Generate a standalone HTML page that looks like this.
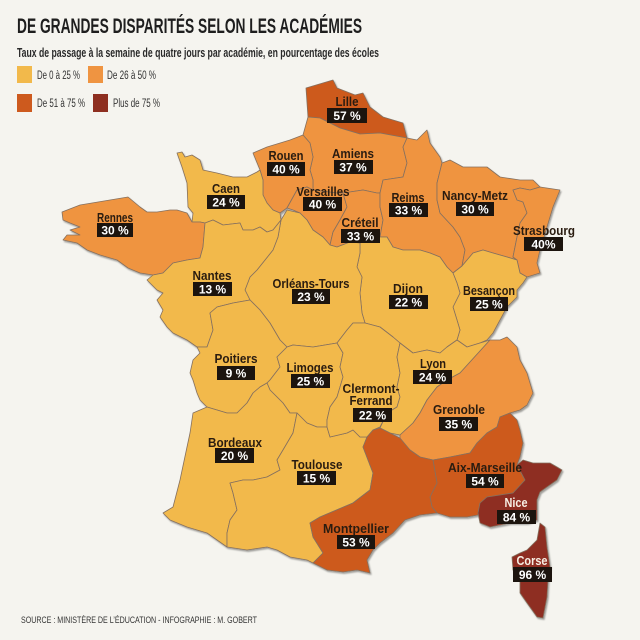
<!DOCTYPE html>
<html><head><meta charset="utf-8"><style>
html,body{margin:0;padding:0;background:#f5f4ef;}
svg{display:block;}
.r{stroke:#85705f;stroke-width:0.8;stroke-linejoin:round;}
.y{fill:#f2b94b}.o{fill:#ef9441}.d{fill:#cd5a1e}.k{fill:#8e2f20}
.lb{font-family:"Liberation Sans Narrow","Liberation Sans",sans-serif;font-weight:bold;font-size:13px;fill:#2a1c10;}
.lw{fill:#f7efe4;}
.pc{font-family:"Liberation Sans Narrow","Liberation Sans",sans-serif;font-weight:bold;font-size:12px;fill:#ffffff;}
.bx{fill:#1c140e;}
.lg{font-family:"Liberation Sans Narrow","Liberation Sans",sans-serif;font-size:11.5px;fill:#333;}
</style></head><body>
<svg width="640" height="640" viewBox="0 0 640 640" xmlns="http://www.w3.org/2000/svg">
<defs>
<filter id="sh" x="-5%" y="-5%" width="110%" height="110%">
<feDropShadow dx="1.2" dy="1.6" stdDeviation="0.9" flood-color="#000" flood-opacity="0.35"/>
</filter>
</defs>
<rect width="640" height="640" fill="#f5f4ef"/>
<text x="17" y="33" textLength="345" lengthAdjust="spacingAndGlyphs" style="font-family:'Liberation Sans Narrow','Liberation Sans',sans-serif;font-weight:bold;font-size:21px;fill:#1e1e1e;">DE GRANDES DISPARITÉS SELON LES ACADÉMIES</text>
<text x="17" y="57" textLength="362" lengthAdjust="spacingAndGlyphs" style="font-family:'Liberation Sans Narrow','Liberation Sans',sans-serif;font-weight:bold;font-size:12.5px;fill:#2a2a2a;">Taux de passage à la semaine de quatre jours par académie, en pourcentage des écoles</text>
<rect x="17" y="66" width="15" height="17" class="y"/>
<text x="37" y="79" class="lg" textLength="43" lengthAdjust="spacingAndGlyphs">De 0 à 25 %</text>
<rect x="88" y="66" width="15" height="17" class="o"/>
<text x="107" y="79" class="lg" textLength="49" lengthAdjust="spacingAndGlyphs">De 26 à 50 %</text>
<rect x="17" y="94" width="15" height="18" class="d"/>
<text x="37" y="107" class="lg" textLength="48" lengthAdjust="spacingAndGlyphs">De 51 à 75 %</text>
<rect x="93" y="94" width="15" height="18" class="k"/>
<text x="113" y="107" class="lg" textLength="47" lengthAdjust="spacingAndGlyphs">Plus de 75 %</text>

<g filter="url(#sh)">
<polygon class="r d" points="306,88 333,80 337,88 355,95 363,93 370,107 383,117 403,123 407,138 380,133 360,134 340,128 320,118 308,117"/>
<polygon class="r o" points="308,117 320,118 340,128 360,134 380,133 407,138 403,147 407,163 403,177 383,180 380,193 377,193 363,190 343,193 337,193 313,190 313,180 310,170 313,157 310,143 303,135"/>
<polygon class="r o" points="253,153 267,147 290,140 303,135 310,143 313,157 310,170 313,180 313,190 307,187 297,190 287,208 280,213 273,210 267,203 263,195 263,180 260,170"/>
<polygon class="r y" points="177,153 182,152 185,157 192,155 200,160 203,170 217,173 233,177 247,177 257,172 260,170 263,180 263,195 267,203 273,210 280,213 281,220 273,230 267,232 260,227 253,230 243,230 240,223 223,225 213,220 205,223 200,222 192,222 193,213 188,207 187,183 182,167"/>
<polygon class="r o" points="287,208 297,190 307,187 313,190 337,193 343,193 347,207 340,220 333,232 330,245 323,237 313,230 307,220 300,213 293,210"/>
<polygon class="r o" points="343,193 363,190 377,193 380,193 380,207 383,220 380,237 373,237 363,240 350,242 337,247 330,245 333,232 340,220 347,207"/>
<polygon class="r o" points="407,138 417,140 427,130 430,143 440,157 442,163 437,183 437,200 440,213 453,227 460,237 465,250 462,266 453,273 447,267 440,257 430,253 420,250 403,250 393,247 387,237 380,237 383,220 380,207 380,193 383,180 403,177 407,163 403,147"/>
<polygon class="r o" points="442,163 450,160 463,167 487,167 500,177 520,180 533,180 540,187 530,190 520,188 513,190 517,200 523,202 527,213 520,223 517,237 513,257 517,260 507,257 493,253 483,250 473,253 462,266 465,250 460,237 453,227 440,213 437,200 437,183"/>
<polygon class="r o" points="513,190 520,188 530,190 540,187 560,190 553,207 547,227 540,250 537,263 540,273 527,277 520,273 517,260 513,257 517,237 520,223 527,213 523,202 517,200"/>
<polygon class="r y" points="453,273 462,266 473,253 483,250 493,253 507,257 517,260 520,273 527,277 523,283 517,290 517,297 507,307 500,320 493,333 487,340 480,343 467,347 457,340 460,330 457,320 453,307 460,293 457,283"/>
<polygon class="r y" points="360,243 373,237 380,237 387,237 393,247 403,250 420,250 430,253 440,257 447,267 453,273 457,283 460,293 453,307 457,320 460,330 457,340 447,347 440,353 427,350 413,353 400,343 393,337 380,327 365,323 362,313 360,293 362,277 357,267 360,253"/>
<polygon class="r y" points="281,220 287,210 300,213 307,220 313,230 323,237 330,245 337,247 350,242 360,243 360,253 357,267 362,277 360,293 362,313 365,323 353,323 347,330 337,343 313,347 293,345 287,347 280,340 270,323 260,310 250,300 245,290 250,277 257,270 265,260 273,250 278,237"/>
<polygon class="r o" points="62,212 80,205 110,200 128,197 140,207 147,212 157,212 170,210 177,210 187,213 192,222 200,222 205,223 203,247 200,258 187,260 173,263 163,273 153,275 140,273 128,268 117,260 100,255 87,250 77,243 63,240 67,235 80,235 70,230 80,227 70,223 63,220"/>
<polygon class="r y" points="205,223 213,220 223,225 240,223 243,230 253,230 260,227 267,232 273,230 281,220 278,237 273,250 265,260 257,270 250,277 245,290 250,300 233,303 217,307 210,313 213,330 207,347 197,347 187,340 173,333 167,327 160,317 163,310 157,300 163,293 157,290 147,280 153,275 163,273 173,263 187,260 200,258 203,247"/>
<polygon class="r y" points="197,347 207,347 213,330 210,313 217,307 233,303 250,300 260,310 270,323 280,340 287,347 277,357 280,367 270,380 267,383 260,387 253,393 247,403 237,413 227,413 217,410 207,407 200,400 197,393 193,380 190,373 193,360 200,353"/>
<polygon class="r y" points="287,347 293,345 313,347 337,343 343,353 340,367 343,377 340,387 337,397 330,407 327,420 327,427 323,427 317,427 307,423 297,413 290,413 283,403 270,390 267,383 270,380 280,367 277,357"/>
<polygon class="r y" points="207,407 217,410 227,413 237,413 247,403 253,393 260,387 267,383 270,390 283,403 290,413 297,413 293,433 283,450 277,460 280,470 267,477 253,480 243,480 230,483 233,493 237,510 230,520 227,533 227,547 207,533 187,527 170,520 163,513 173,507 180,480 187,447 190,433 193,413 200,410"/>
<polygon class="r y" points="297,413 307,423 317,427 323,427 327,427 330,437 347,433 353,430 360,437 367,437 363,447 373,473 370,490 353,503 320,517 310,523 313,537 323,553 313,563 307,560 290,557 277,550 267,547 247,550 227,547 227,533 230,520 237,510 233,493 230,483 243,480 253,480 267,477 280,470 277,460 283,450 293,433"/>
<polygon class="r y" points="337,343 347,330 353,323 365,323 380,327 393,337 400,343 397,357 400,373 397,387 400,397 397,407 387,413 380,427 373,430 367,437 360,437 353,430 347,433 330,437 327,427 327,420 330,407 337,397 340,387 343,377 340,367 343,353"/>
<polygon class="r y" points="400,343 413,353 427,350 440,353 447,347 457,340 467,347 480,343 490,340 460,373 447,380 437,387 427,400 420,413 413,423 400,435 390,433 380,428 387,413 397,407 400,397 397,387 400,373 397,357"/>
<polygon class="r o" points="490,340 500,340 507,337 517,347 520,360 527,373 533,393 527,405 520,410 510,413 500,417 497,427 487,433 477,443 470,453 450,457 433,460 420,457 410,450 400,440 400,435 413,423 420,413 427,400 437,387 447,380 460,373"/>
<polygon class="r d" points="433,460 450,457 470,453 477,443 487,433 497,427 500,417 510,413 517,420 520,430 523,443 520,457 517,465 525,480 513,493 500,495 487,497 480,503 478,515 467,517 450,517 437,513 432,507 430,497 437,483"/>
<polygon class="r k" points="517,465 523,460 533,463 550,463 557,467 562,470 557,480 547,487 540,492 537,500 537,510 537,520 527,523 510,523 490,527 480,523 478,513 480,503 487,497 500,495 513,493 525,480"/>
<polygon class="r d" points="373,430 380,428 390,433 400,438 410,450 420,457 433,460 437,483 430,497 432,507 437,513 420,515 405,520 393,533 380,543 373,550 367,560 370,573 357,570 343,572 327,570 313,563 323,553 313,537 310,523 320,517 353,503 370,490 373,473 363,447 367,437"/>
<polygon class="r k" points="540,523 545,527 547,547 550,567 548,580 547,597 543,618 537,617 527,603 520,593 520,580 513,570 512,557 520,553 527,550 537,540"/>
</g>

<g>
<text class="lb" x="347" y="106" text-anchor="middle" textLength="23" lengthAdjust="spacingAndGlyphs">Lille</text>
<rect class="bx" x="327" y="108" width="40" height="15"/><text class="pc" x="347" y="120" text-anchor="middle">57 %</text>

<text class="lb" x="286" y="160" text-anchor="middle" textLength="35" lengthAdjust="spacingAndGlyphs">Rouen</text>
<rect class="bx" x="267" y="162" width="38" height="14"/><text class="pc" x="286" y="173.5" text-anchor="middle">40 %</text>

<text class="lb" x="353" y="158" text-anchor="middle" textLength="42" lengthAdjust="spacingAndGlyphs">Amiens</text>
<rect class="bx" x="334" y="160" width="39" height="14"/><text class="pc" x="353" y="171.5" text-anchor="middle">37 %</text>

<text class="lb" x="226" y="193" text-anchor="middle" textLength="28" lengthAdjust="spacingAndGlyphs">Caen</text>
<rect class="bx" x="207" y="195" width="38" height="14"/><text class="pc" x="226" y="206.5" text-anchor="middle">24 %</text>

<text class="lb" x="323" y="196" text-anchor="middle" textLength="53" lengthAdjust="spacingAndGlyphs">Versailles</text>
<rect class="bx" x="303" y="197" width="39" height="14"/><text class="pc" x="322.5" y="208.5" text-anchor="middle">40 %</text>

<text class="lb" x="360" y="227" text-anchor="middle" textLength="37" lengthAdjust="spacingAndGlyphs">Créteil</text>
<rect class="bx" x="341" y="229" width="39" height="14"/><text class="pc" x="360.5" y="240.5" text-anchor="middle">33 %</text>

<text class="lb" x="408" y="202" text-anchor="middle" textLength="33" lengthAdjust="spacingAndGlyphs">Reims</text>
<rect class="bx" x="389" y="203" width="39" height="14"/><text class="pc" x="408.5" y="214.5" text-anchor="middle">33 %</text>

<text class="lb" x="475" y="200" text-anchor="middle" textLength="66" lengthAdjust="spacingAndGlyphs">Nancy-Metz</text>
<rect class="bx" x="456" y="202" width="38" height="14"/><text class="pc" x="475" y="213.5" text-anchor="middle">30 %</text>

<text class="lb" x="544" y="235" text-anchor="middle" textLength="62" lengthAdjust="spacingAndGlyphs">Strasbourg</text>
<rect class="bx" x="524" y="237" width="39" height="14"/><text class="pc" x="543.5" y="248.5" text-anchor="middle">40%</text>

<text class="lb" x="115" y="222" text-anchor="middle" textLength="36" lengthAdjust="spacingAndGlyphs">Rennes</text>
<rect class="bx" x="97" y="223" width="36" height="14"/><text class="pc" x="115" y="234.5" text-anchor="middle">30 %</text>

<text class="lb" x="212" y="280" text-anchor="middle" textLength="39" lengthAdjust="spacingAndGlyphs">Nantes</text>
<rect class="bx" x="193" y="282" width="39" height="14"/><text class="pc" x="212.5" y="293.5" text-anchor="middle">13 %</text>

<text class="lb" x="311" y="288" text-anchor="middle" textLength="77" lengthAdjust="spacingAndGlyphs">Orléans-Tours</text>
<rect class="bx" x="292" y="289" width="38" height="15"/><text class="pc" x="311" y="301" text-anchor="middle">23 %</text>

<text class="lb" x="408" y="293" text-anchor="middle" textLength="30" lengthAdjust="spacingAndGlyphs">Dijon</text>
<rect class="bx" x="389" y="295" width="39" height="14"/><text class="pc" x="408.5" y="306.5" text-anchor="middle">22 %</text>

<text class="lb" x="489" y="295" text-anchor="middle" textLength="52" lengthAdjust="spacingAndGlyphs">Besançon</text>
<rect class="bx" x="470" y="297" width="38" height="14"/><text class="pc" x="489" y="308.5" text-anchor="middle">25 %</text>

<text class="lb" x="236" y="363" text-anchor="middle" textLength="43" lengthAdjust="spacingAndGlyphs">Poitiers</text>
<rect class="bx" x="217" y="366" width="38" height="14"/><text class="pc" x="236" y="377.5" text-anchor="middle">9 %</text>

<text class="lb" x="310" y="372" text-anchor="middle" textLength="47" lengthAdjust="spacingAndGlyphs">Limoges</text>
<rect class="bx" x="291" y="374" width="39" height="14"/><text class="pc" x="310.5" y="385.5" text-anchor="middle">25 %</text>

<text class="lb" x="433" y="368" text-anchor="middle" textLength="26" lengthAdjust="spacingAndGlyphs">Lyon</text>
<rect class="bx" x="413" y="370" width="39" height="14"/><text class="pc" x="432.5" y="381.5" text-anchor="middle">24 %</text>

<text class="lb" x="371" y="393" text-anchor="middle" textLength="57" lengthAdjust="spacingAndGlyphs">Clermont-</text>
<text class="lb" x="371" y="405" text-anchor="middle" textLength="43" lengthAdjust="spacingAndGlyphs">Ferrand</text>
<rect class="bx" x="353" y="408" width="39" height="14"/><text class="pc" x="372.5" y="419.5" text-anchor="middle">22 %</text>

<text class="lb" x="459" y="414" text-anchor="middle" textLength="52" lengthAdjust="spacingAndGlyphs">Grenoble</text>
<rect class="bx" x="439" y="417" width="39" height="14"/><text class="pc" x="458.5" y="428.5" text-anchor="middle">35 %</text>

<text class="lb" x="235" y="447" text-anchor="middle" textLength="54" lengthAdjust="spacingAndGlyphs">Bordeaux</text>
<rect class="bx" x="215" y="448" width="39" height="15"/><text class="pc" x="234.5" y="460" text-anchor="middle">20 %</text>

<text class="lb" x="317" y="469" text-anchor="middle" textLength="51" lengthAdjust="spacingAndGlyphs">Toulouse</text>
<rect class="bx" x="297" y="471" width="39" height="14"/><text class="pc" x="316.5" y="482.5" text-anchor="middle">15 %</text>

<text class="lb" x="485" y="472" text-anchor="middle" textLength="74" lengthAdjust="spacingAndGlyphs">Aix-Marseille</text>
<rect class="bx" x="466" y="474" width="38" height="14"/><text class="pc" x="485" y="485.5" text-anchor="middle">54 %</text>

<text class="lb lw" x="516" y="507" text-anchor="middle" textLength="23" lengthAdjust="spacingAndGlyphs">Nice</text>
<rect class="bx" x="497" y="510" width="39" height="14"/><text class="pc" x="516.5" y="521.5" text-anchor="middle">84 %</text>

<text class="lb" x="356" y="533" text-anchor="middle" textLength="66" lengthAdjust="spacingAndGlyphs">Montpellier</text>
<rect class="bx" x="337" y="535" width="38" height="14"/><text class="pc" x="356" y="546.5" text-anchor="middle">53 %</text>

<text class="lb lw" x="532" y="565" text-anchor="middle" textLength="31" lengthAdjust="spacingAndGlyphs">Corse</text>
<rect class="bx" x="513" y="567" width="39" height="15"/><text class="pc" x="532.5" y="579" text-anchor="middle">96 %</text>
</g>

<text x="21" y="623" textLength="236" lengthAdjust="spacingAndGlyphs" style="font-family:'Liberation Sans Narrow','Liberation Sans',sans-serif;font-size:9.5px;fill:#333;">SOURCE : MINISTÈRE DE L’ÉDUCATION - INFOGRAPHIE : M. GOBERT</text>
</svg>
</body></html>
